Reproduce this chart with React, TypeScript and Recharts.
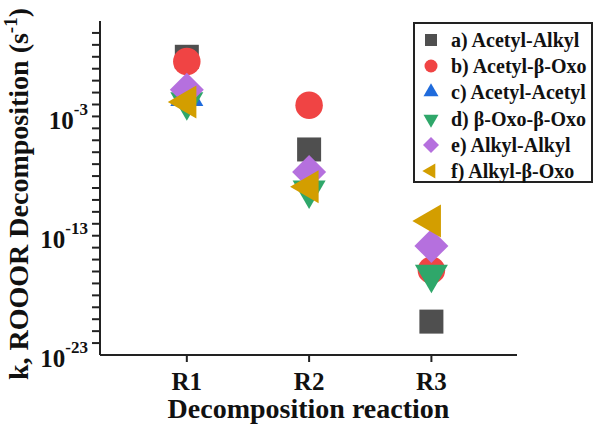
import { Scatter, ScatterChart, XAxis, YAxis } from 'recharts'

const categories = ['R1', 'R2', 'R3']
const categoryX = [1, 2, 3]

// k (s^-1) for R1, R2, R3; null = not visible in the figure
const acetylAlkyl = [1e1, 1.7e-7, 6.3e-22]
const acetylBetaOxo = [4e0, 8.5e-4, 1.3e-17]
const acetylAcetyl = [4.7e-3, null, null]
const betaOxoBetaOxo = [1.7e-3, 6.8e-11, 5.8e-18]
const alkylAlkyl = [1.7e-2, 2.2e-9, 1.4e-15]
const alkylBetaOxo = [1.6e-3, 1.3e-10, 1.7e-13]

const seriesNames = [
  'a) Acetyl-Alkyl',
  'b) Acetyl-β-Oxo',
  'c) Acetyl-Acetyl',
  'd) β-Oxo-β-Oxo',
  'e) Alkyl-Alkyl',
  'f) Alkyl-β-Oxo',
]
const seriesValues = [acetylAlkyl, acetylBetaOxo, acetylAcetyl, betaOxoBetaOxo, alkylAlkyl, alkylBetaOxo]

const yTickExps = [-23, -22, -21, -20, -19, -18, -17, -16, -15, -14, -13, -12, -11, -10, -9, -8, -7, -6, -5, -4, -3, -2, -1, 0, 1, 2, 3]
const yLabelExps = [-23, -13, -3]

type Kind = 'square' | 'circle' | 'up' | 'down' | 'diamond' | 'left'
const kinds: Kind[] = ['square', 'circle', 'up', 'down', 'diamond', 'left']
const colors = ['#4f4f4f', '#f04444', '#1f6bdc', '#2fa76a', '#b570de', '#d39e00']

const FONT = '"Liberation Serif", "Times New Roman", serif'
const AXIS = '#222'

function Marker({ kind, cx, cy, s, color }: { kind: Kind; cx: number; cy: number; s: number; color: string }) {
  // s = nominal width of the mark
  if (kind === 'square') return <rect x={cx - s / 2} y={cy - s / 2} width={s} height={s} fill={color} />
  if (kind === 'circle') return <circle cx={cx} cy={cy} r={s / 2} fill={color} />
  if (kind === 'diamond') {
    const r = s / 2
    return <polygon points={`${cx},${cy - r} ${cx + r},${cy} ${cx},${cy + r} ${cx - r},${cy}`} fill={color} />
  }
  const h = (s * Math.sqrt(3)) / 2
  if (kind === 'up')
    return <polygon points={`${cx},${cy - (2 * h) / 3} ${cx + s / 2},${cy + h / 3} ${cx - s / 2},${cy + h / 3}`} fill={color} />
  if (kind === 'down')
    return <polygon points={`${cx},${cy + (2 * h) / 3} ${cx + s / 2},${cy - h / 3} ${cx - s / 2},${cy - h / 3}`} fill={color} />
  return <polygon points={`${cx - (2 * h) / 3},${cy} ${cx + h / 3},${cy - s / 2} ${cx + h / 3},${cy + s / 2}`} fill={color} />
}

const plotSizes: Record<Kind, number> = { square: 24, circle: 27.5, up: 33, down: 33, diamond: 34, left: 33 }
const legendSizes: Record<Kind, number> = { square: 12, circle: 13, up: 15, down: 15, diamond: 16, left: 15 }

function YTick(props: any) {
  const y = Number(props.y)
  const exp = Math.round(Math.log10(props.payload.value))
  return (
    <g>
      <line x1={92} x2={100} y1={y} y2={y} stroke={AXIS} strokeWidth={2} />
      {yLabelExps.includes(exp) && (
        <text x={88} y={y + 24} textAnchor="end" fontFamily={FONT} fontWeight="bold" fontSize={25} fill="#111">
          <tspan>10</tspan>
          <tspan dy={-14} fontSize={17}>{exp}</tspan>
        </text>
      )}
    </g>
  )
}

function XTick(props: any) {
  const x = Number(props.x)
  const idx = categoryX.indexOf(props.payload.value)
  return (
    <g>
      <line x1={x} x2={x} y1={355} y2={362} stroke={AXIS} strokeWidth={2} />
      <text x={x} y={390} textAnchor="middle" fontFamily={FONT} fontWeight="bold" fontSize={25} fill="#111">
        {categories[idx]}
      </text>
    </g>
  )
}

export default function App() {
  return (
    <div style={{ position: 'relative', width: 594, height: 427, background: '#fff', overflow: 'hidden' }}>
      <style>{'body{margin:0;overflow:hidden}'}</style>
      <ScatterChart width={594} height={427} margin={{ top: 21, right: 77, bottom: 0, left: 0 }}>
        <XAxis
          dataKey="x"
          type="number"
          domain={[0.29, 3.7]}
          ticks={categoryX}
          interval={0}
          allowDataOverflow
          height={72}
          stroke={AXIS}
          strokeWidth={2}
          tickLine={false}
          tick={<XTick />}
          label={{
            content: (p: any) => (
              <text
                x={p.viewBox.x + p.viewBox.width / 2}
                y={418}
                textAnchor="middle"
                fontFamily={FONT}
                fontWeight="bold"
                fontSize={28}
                fill="#111"
              >
                Decomposition reaction
              </text>
            ),
          }}
        />
        <XAxis xAxisId="top" orientation="top" type="number" domain={[0, 1]} height={0} tick={false} tickLine={false} stroke={AXIS} strokeWidth={2} />
        <YAxis
          dataKey="y"
          type="number"
          scale="log"
          domain={[1e-24, 1e4]}
          ticks={yTickExps.map(e => Number(`1e${e}`))}
          interval={0}
          allowDataOverflow
          width={100}
          stroke={AXIS}
          strokeWidth={2}
          tickLine={false}
          tick={<YTick />}
          label={{
            content: () => {
              const cy = 194
              return (
                <text
                  x={28}
                  y={cy}
                  transform={`rotate(-90, 28, ${cy})`}
                  textAnchor="middle"
                  fontFamily={FONT}
                  fontWeight="bold"
                  fontSize={28}
                  fill="#111"
                >
                  k, ROOOR Decomposition (s
                  <tspan dy={-11} fontSize={19}>-1</tspan>
                  <tspan dy={11}>)</tspan>
                </text>
              )
            },
          }}
        />
        <YAxis yAxisId="right" orientation="right" type="number" domain={[0, 1]} width={0} tick={false} tickLine={false} stroke={AXIS} strokeWidth={2} />
        {seriesNames.map((name, si) => (
          <Scatter
            key={name}
            name={name}
            data={seriesValues[si]
              .map((v, i) => ({ x: categoryX[i], y: v }))
              .filter(d => d.y != null)}
            isAnimationActive={false}
            shape={(p: any) => (
              <Marker kind={kinds[si]} cx={p.cx} cy={p.cy} s={plotSizes[kinds[si]]} color={colors[si]} />
            )}
          />
        ))}
      </ScatterChart>
      <div
        style={{
          position: 'absolute',
          left: 413,
          top: 22,
          width: 180,
          height: 161,
          border: `2px solid ${AXIS}`,
          background: '#fff',
          fontFamily: FONT,
          fontWeight: 'bold',
          fontSize: 20,
          color: '#111',
          boxSizing: 'border-box',
          paddingTop: 3,
        }}
      >
        {seriesNames.map((name, si) => (
          <div key={name} style={{ display: 'flex', alignItems: 'center', height: 26.2 }}>
            <svg width={36} height={20} style={{ flex: 'none' }}>
              <Marker kind={kinds[si]} cx={16} cy={10} s={legendSizes[kinds[si]]} color={colors[si]} />
            </svg>
            <span style={{ whiteSpace: 'nowrap', lineHeight: '20px' }}>{name}</span>
          </div>
        ))}
      </div>
    </div>
  )
}
